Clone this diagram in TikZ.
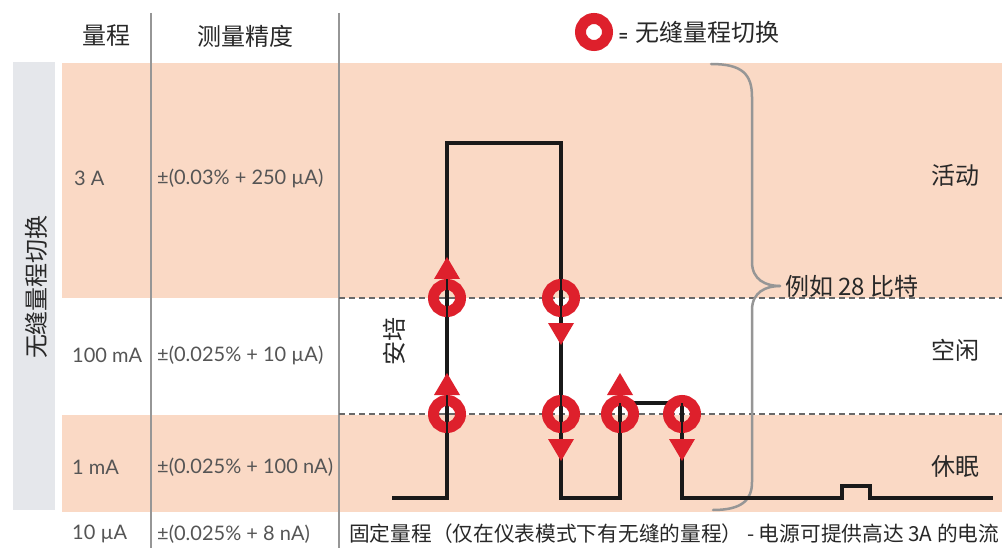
\documentclass[tikz,border=0pt]{standalone}
\usepackage{fontspec}
\setmainfont{Noto Sans CJK SC}
\newfontfamily\latinlab{Lato}
\usetikzlibrary{calc}
\definecolor{peach}{RGB}{250,217,197}
\definecolor{greyband}{RGB}{229,231,235}
\definecolor{ringred}{RGB}{222,32,44}
\definecolor{rulegrey}{RGB}{150,150,150}
\definecolor{dashgrey}{RGB}{105,105,105}
\definecolor{txt}{RGB}{40,40,40}
\definecolor{labtxt}{RGB}{85,85,85}
\definecolor{bracegrey}{RGB}{150,150,150}
\definecolor{wave}{RGB}{25,25,25}
\tikzset{
  band/.style={fill=peach,draw=none},
  colrule/.style={draw=rulegrey,line width=1.5pt},
  levelline/.style={draw=dashgrey,line width=1.6pt,dash pattern=on 6pt off 4pt},
  waveline/.style={draw=wave,line width=3.5pt,line join=miter},
  ring/.style={circle,draw=ringred,line width=11pt,minimum size=27pt,inner sep=0pt},
  tri/.style={fill=ringred,draw=none},
  hdr/.style={text=txt,font=\fontsize{24}{26}\selectfont,inner sep=0pt},
  lab/.style={text=labtxt,font=\latinlab\fontsize{20}{22}\selectfont,inner sep=0pt,anchor=west},
  state/.style={text=txt,font=\fontsize{24}{26}\selectfont,inner sep=0pt},
  note/.style={text=txt,font=\fontsize{20.7}{22}\selectfont,inner sep=0pt,anchor=west},
  bracestyle/.style={draw=bracegrey,line width=2.5pt,line cap=round}
}
\begin{document}
\begin{tikzpicture}[x=1pt,y=-1pt]
\useasboundingbox (0,0) rectangle (1002,548);
\fill[white] (0,0) rectangle (1002,548);
% bands
\fill[greyband] (13,62) rectangle (55,510);
\fill[band] (62,63) rectangle (1002,298);
\fill[band] (62,415) rectangle (1002,512);
% column rules
\draw[colrule] (151,13) -- (151,548);
\draw[colrule] (339,13) -- (339,548);
% level lines
\draw[levelline] (339,298) -- (1002,298);
\draw[levelline] (339,414) -- (1002,414);
% headers
\node[hdr] (hrange) at (106,36) {量程};
\node[hdr] (hacc) at (245,36) {测量精度};
\node[ring] (legring) at (594,32) {};
\node[hdr,anchor=west] (legtxt) at (619,32) {{\fontsize{14}{14}\selectfont\bfseries=}\hspace{8pt}无缝量程切换};
% side label
\node[hdr,rotate=90] (side) at (36,287) {无缝量程切换};
% row labels
\node[lab] (r1) at (74,178) {3 A};
\node[lab] (a1) at (157,178) {±(0.03\% + 250 µA)};
\node[lab] (r2) at (72,355) {100 mA};
\node[lab] (a2) at (157,355) {±(0.025\% + 10 µA)};
\node[lab] (r3) at (72,467) {1 mA};
\node[lab] (a3) at (157,467) {±(0.025\% + 100 nA)};
\node[lab] (r4) at (72,534) {10 µA};
\node[lab] (a4) at (157,534) {±(0.025\% + 8 nA)};
\node[note] (fixed) at (349,534) {固定量程（仅在仪表模式下有无缝的量程） - 电源可提供高达 3A 的电流};
% states
\node[state] (active) at (955,175) {活动};
\node[state] (idle) at (955,350) {空闲};
\node[state] (sleep) at (955,466) {休眠};
\node[state,rotate=90] (amp) at (394,341) {安培};
% brace
\coordinate (btop) at (711,64);
\coordinate (btip) at (780,286);
\coordinate (bbot) at (713,510);
\draw[bracestyle] (btop) .. controls (742,64) and (752,74) .. (752,97) -- (752,262)
  .. controls (752,280) and (766,286) .. (btip);
\draw[bracestyle] (btip) .. controls (766,286) and (752,292) .. (752,310) -- (752,482)
  .. controls (752,500) and (742,510) .. (bbot);
\node[state,anchor=west] (bits) at (785,286) {例如 28 比特};
% waveform
\coordinate (w0) at (392,498);
\coordinate (w1) at (447,498);
\coordinate (w2) at (447,143);
\coordinate (w3) at (561,143);
\coordinate (w4) at (561,498);
\coordinate (w5) at (620,498);
\coordinate (w6) at (620,403);
\coordinate (w7) at (682,403);
\coordinate (w8) at (682,498);
\coordinate (w9) at (842,498);
\coordinate (w10) at (842,486);
\coordinate (w11) at (870,486);
\coordinate (w12) at (870,498);
\coordinate (w13) at (993,498);
\draw[waveline] (w0) -- (w1) -- (w2) -- (w3) -- (w4) -- (w5) -- (w6) -- (w7) -- (w8) -- (w9) -- (w10) -- (w11) -- (w12) -- (w13);
% switch rings
\node[ring] (s1) at (447,298) {};
\node[ring] (s2) at (447,414) {};
\node[ring] (s3) at (561,298) {};
\node[ring] (s4) at (561,414) {};
\node[ring] (s5) at (620,414) {};
\node[ring] (s6) at (682,414) {};
% thin line through rings
\draw[draw=wave,line width=1.2pt] (w1) -- (w2) (w3) -- (w4) (w5) -- (w6) (w7) -- (w8);
% arrows up
\foreach \s in {s1,s2,s5}{
  \fill[tri] ($(\s)+(-13,-19)$) -- ($(\s)+(13,-19)$) -- ($(\s)+(0,-41)$) -- cycle;
}
% arrows down
\foreach \s in {s3,s4,s6}{
  \fill[tri] ($(\s)+(-13,25)$) -- ($(\s)+(13,25)$) -- ($(\s)+(0,47)$) -- cycle;
}
\end{tikzpicture}
\end{document}
